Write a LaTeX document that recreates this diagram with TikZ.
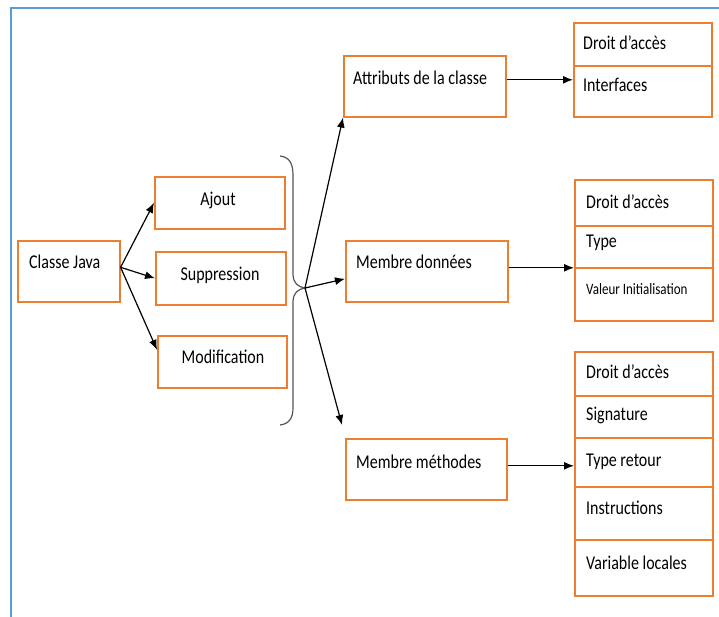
\documentclass[tikz,border=0pt]{standalone}
\usepackage{fontspec}
\setmainfont{Carlito}
\usetikzlibrary{arrows.meta}
\definecolor{borange}{HTML}{ED7D31}
\definecolor{bblue}{HTML}{5B9BD5}
\definecolor{bracegray}{HTML}{555555}
\newcommand\vtxt[1]{\scalebox{1}[1.22]{#1}}
\tikzset{
  box/.style={draw=borange, line width=1.6pt, anchor=north west, inner sep=0pt, rectangle},
  lbl/.style={anchor=west, inner sep=0pt, font=\fontsize{16}{19}\selectfont, text=black},
  clbl/.style={anchor=center, inner sep=0pt, font=\fontsize{16}{19}\selectfont, text=black},
  arr/.style={draw=black, line width=1.2pt, -{Latex[length=10pt,width=8pt]}},
  divline/.style={draw=borange, line width=1.6pt}
}
\begin{document}
\begin{tikzpicture}[x=1pt,y=-1pt]
\useasboundingbox (0,0) rectangle (719,617);
% frame
\draw[bblue, line width=1.2pt] (11,617) -- (11,8) -- (719,8);
% left boxes
\node[box, minimum width=102pt, minimum height=61pt] (cj) at (17,240) {};
\node[lbl] (cjt) at (29,262) {\vtxt{Classe Java}};
\node[box, minimum width=130pt, minimum height=52pt] (aj) at (154,176) {};
\node[clbl] (ajt) at (218,200) {\vtxt{Ajout}};
\node[box, minimum width=130pt, minimum height=53pt] (sup) at (155,251) {};
\node[clbl] (supt) at (220,275) {\vtxt{Suppression}};
\node[box, minimum width=129pt, minimum height=52pt] (mod) at (157,335) {};
\node[clbl] (modt) at (223,357) {\vtxt{Modification}};
% middle boxes
\node[box, minimum width=162pt, minimum height=61pt] (attr) at (343,55) {};
\node[lbl] (attrt) at (353,78) {\vtxt{Attributs de la classe}};
\node[box, minimum width=162pt, minimum height=61pt] (md) at (345,240) {};
\node[lbl] (mdt) at (356,262) {\vtxt{Membre données}};
\node[box, minimum width=161pt, minimum height=61pt] (mm) at (345,438) {};
\node[lbl] (mmt) at (356,462) {\vtxt{Membre méthodes}};
% right boxes
\node[box, minimum width=138pt, minimum height=94pt] (r1) at (573,22) {};
\draw[divline] (573,66) -- (711,66);
\node[lbl] (r1a) at (583,43) {\vtxt{Droit d’accès}};
\node[lbl] (r1b) at (583,85) {\vtxt{Interfaces}};
\node[box, minimum width=138pt, minimum height=141pt] (r2) at (574,179) {};
\draw[divline] (574,226) -- (712,226);
\draw[divline] (574,268) -- (712,268);
\node[lbl] (r2a) at (586,202) {\vtxt{Droit d’accès}};
\node[lbl] (r2b) at (586,243) {\vtxt{Type}};
\node[lbl, font=\fontsize{13}{15}\selectfont] (r2c) at (586,289) {\vtxt{Valeur Initialisation}};
\node[box, minimum width=138pt, minimum height=244pt] (r3) at (574,351) {};
\draw[divline] (574,396) -- (712,396);
\draw[divline] (574,438) -- (712,438);
\draw[divline] (574,487) -- (712,487);
\draw[divline] (574,540) -- (712,540);
\node[lbl] (r3a) at (586,372) {\vtxt{Droit d’accès}};
\node[lbl] (r3b) at (586,415) {\vtxt{Signature}};
\node[lbl] (r3c) at (586,462) {\vtxt{Type retour}};
\node[lbl] (r3d) at (586,508) {\vtxt{Instructions}};
\node[lbl] (r3e) at (586,563) {\vtxt{Variable locales}};
% brace
\coordinate (tip) at (305,288);
\draw[bracegray, line width=1.2pt] (280,156) .. controls (289,157) and (293,163) .. (293,175) -- (293,274)
  .. controls (293,283) and (298,287) .. (tip)
  .. controls (298,289) and (293,293) .. (293,302) -- (293,408)
  .. controls (293,418) and (289,424) .. (280,425);
% arrows from Classe Java
\coordinate (cjo) at ([yshift=4pt]cj.east);
\draw[arr] (cjo) -- (aj.west);
\draw[arr] (cjo) -- (sup.west);
\draw[arr] (cjo) -- ([yshift=12pt]mod.west);
% arrows from brace
\coordinate (mmin) at ([xshift=-3pt,yshift=13pt]mm.north west);
\draw[arr] (tip) -- (attr.south west);
\draw[arr] (tip) -- ([yshift=-7.5pt]md.west);
\draw[arr] (tip) -- (mmin);
% arrows to right boxes
\draw[arr] ([yshift=6.5pt]attr.east) -- ([yshift=6.5pt]attr.east -| r1.west);
\draw[arr] ([yshift=3.5pt]md.east) -- ([yshift=3.5pt]md.east -| r2.west);
\draw[arr] ([yshift=3.5pt]mm.east) -- ([yshift=3.5pt]mm.east -| r3.west);
\end{tikzpicture}
\end{document}
